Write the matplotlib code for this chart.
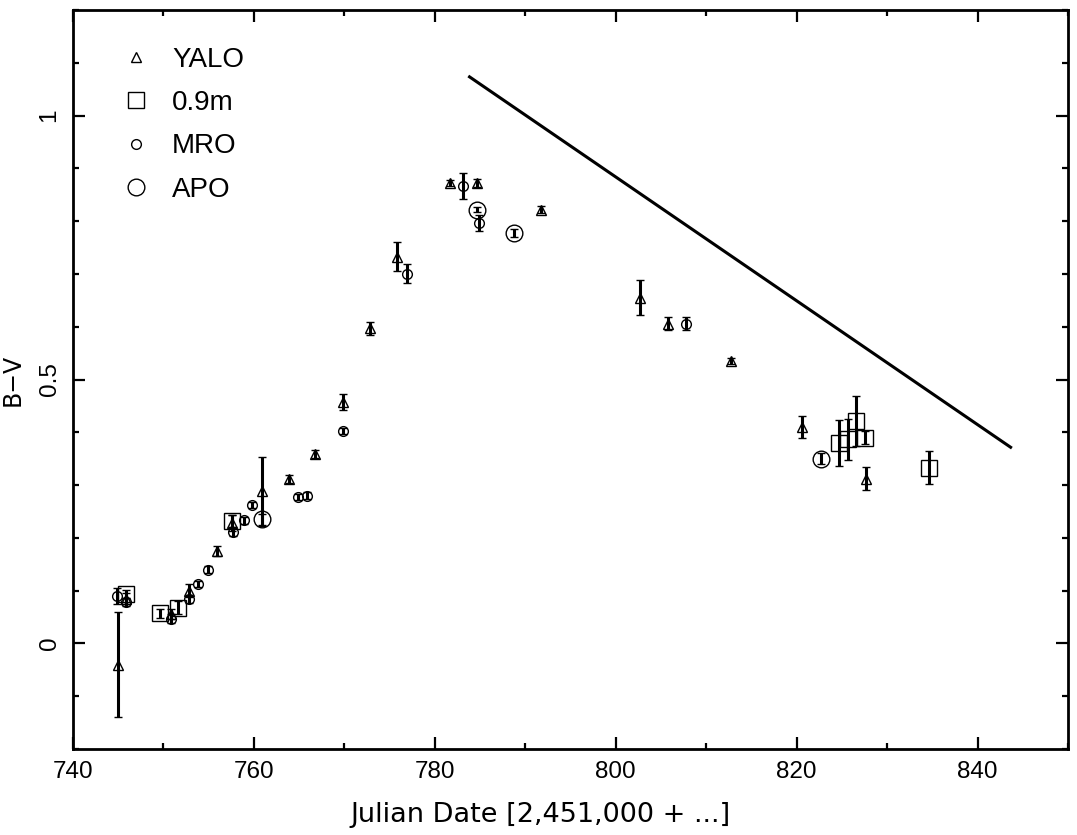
import matplotlib
matplotlib.use("Agg")
import matplotlib.pyplot as plt
from matplotlib.ticker import MultipleLocator
from matplotlib.lines import Line2D

# ---------- data (JD - 2,451,000, B-V, error) ----------
yalo_jd = [745.0, 745.9, 750.8, 752.8, 755.9, 757.6, 760.9, 763.9, 766.8, 769.8,
           772.8, 775.8, 781.7, 784.7, 791.7, 802.7, 805.8, 812.8, 820.6, 827.7]
yalo_bv = [-0.040, 0.085, 0.056, 0.100, 0.175, 0.228, 0.288, 0.311, 0.359, 0.458,
           0.597, 0.733, 0.872, 0.872, 0.822, 0.655, 0.606, 0.535, 0.410, 0.312]
yalo_err = [0.100, 0.010, 0.010, 0.012, 0.010, 0.015, 0.066, 0.008, 0.008, 0.015,
            0.012, 0.028, 0.006, 0.008, 0.007, 0.033, 0.013, 0.006, 0.021, 0.022]

m09_jd = [745.9, 749.6, 751.6, 757.6, 824.7, 825.7, 826.6, 827.6, 834.6]
m09_bv = [0.094, 0.057, 0.068, 0.232, 0.380, 0.387, 0.421, 0.390, 0.333]
m09_err = [0.008, 0.008, 0.012, 0.012, 0.044, 0.039, 0.047, 0.012, 0.031]

mro_jd = [744.9, 745.9, 750.8, 752.8, 753.8, 754.9, 757.7, 758.9, 759.8, 764.9,
          765.9, 769.8, 776.9, 783.1, 784.9, 807.8]
mro_bv = [0.090, 0.079, 0.047, 0.084, 0.112, 0.140, 0.212, 0.233, 0.262, 0.277,
          0.280, 0.402, 0.700, 0.867, 0.796, 0.606]
mro_err = [0.015, 0.008, 0.008, 0.008, 0.006, 0.006, 0.008, 0.006, 0.006, 0.006,
           0.006, 0.006, 0.018, 0.025, 0.015, 0.013]

apo_jd = [760.9, 784.7, 788.8, 822.7]
apo_bv = [0.235, 0.822, 0.778, 0.350]
apo_err = [0.010, 0.005, 0.008, 0.010]

# decline-rate guide line
line_jd = [783.7, 843.8]
line_bv = [1.075, 0.370]

FONT = "Liberation Sans"

fig = plt.figure(figsize=(10.77, 8.35), dpi=100)
ax = fig.add_axes([0.0678, 0.103, 0.9238, 0.885])

common = dict(ls="none", color="black", mfc="none", mec="black", mew=1.0,
              elinewidth=2.2, capsize=2.8, capthick=2.2)
ax.errorbar(yalo_jd, yalo_bv, yerr=yalo_err, marker="^", ms=7.5, **common)
ax.errorbar(m09_jd, m09_bv, yerr=m09_err, marker="s", ms=12, **common)
ax.errorbar(mro_jd, mro_bv, yerr=mro_err, marker="o", ms=7, **common)
ax.errorbar(apo_jd, apo_bv, yerr=apo_err, marker="o", ms=12, **common)

ax.plot(line_jd, line_bv, color="black", lw=2.2, solid_capstyle="butt")

ax.set_xlim(740, 850)
ax.set_ylim(-0.2, 1.2)
ax.xaxis.set_major_locator(MultipleLocator(20))
ax.xaxis.set_minor_locator(MultipleLocator(10))
ax.set_yticks([0, 0.5, 1])
ax.set_yticklabels(["0", "0.5", "1"], rotation=90, va="center")
ax.yaxis.set_minor_locator(MultipleLocator(0.1))

ax.tick_params(which="both", direction="in", top=True, right=True, width=1.6)
ax.tick_params(which="major", length=8.5, labelsize=17.5, pad=9)
ax.tick_params(which="minor", length=4.5)
for lab in ax.get_xticklabels() + ax.get_yticklabels():
    lab.set_family(FONT)
for sp in ax.spines.values():
    sp.set_linewidth(2.0)

ax.set_xlabel("Julian Date [2,451,000 + ...]", family="DejaVu Sans", fontsize=19.5)
ax.xaxis.set_label_coords(0.47, -0.072)
ax.set_ylabel("B\u2212V", family="DejaVu Sans", fontsize=17, labelpad=10)

# ---------- legend ----------
handles = [
    Line2D([], [], ls="none", marker="^", ms=7.5, mfc="none", mec="black", mew=1.0),
    Line2D([], [], ls="none", marker="s", ms=12, mfc="none", mec="black", mew=1.0),
    Line2D([], [], ls="none", marker="o", ms=7, mfc="none", mec="black", mew=1.0),
    Line2D([], [], ls="none", marker="o", ms=12, mfc="none", mec="black", mew=1.0),
]
leg = ax.legend(handles, ["YALO", "0.9m", "MRO", "APO"], loc="upper left",
                bbox_to_anchor=(0.024, 0.984), frameon=False,
                prop={"family": FONT, "size": 20}, handlelength=1.0,
                handletextpad=0.8, labelspacing=0.62)

fig.savefig("out.png", dpi=100, facecolor="white")
